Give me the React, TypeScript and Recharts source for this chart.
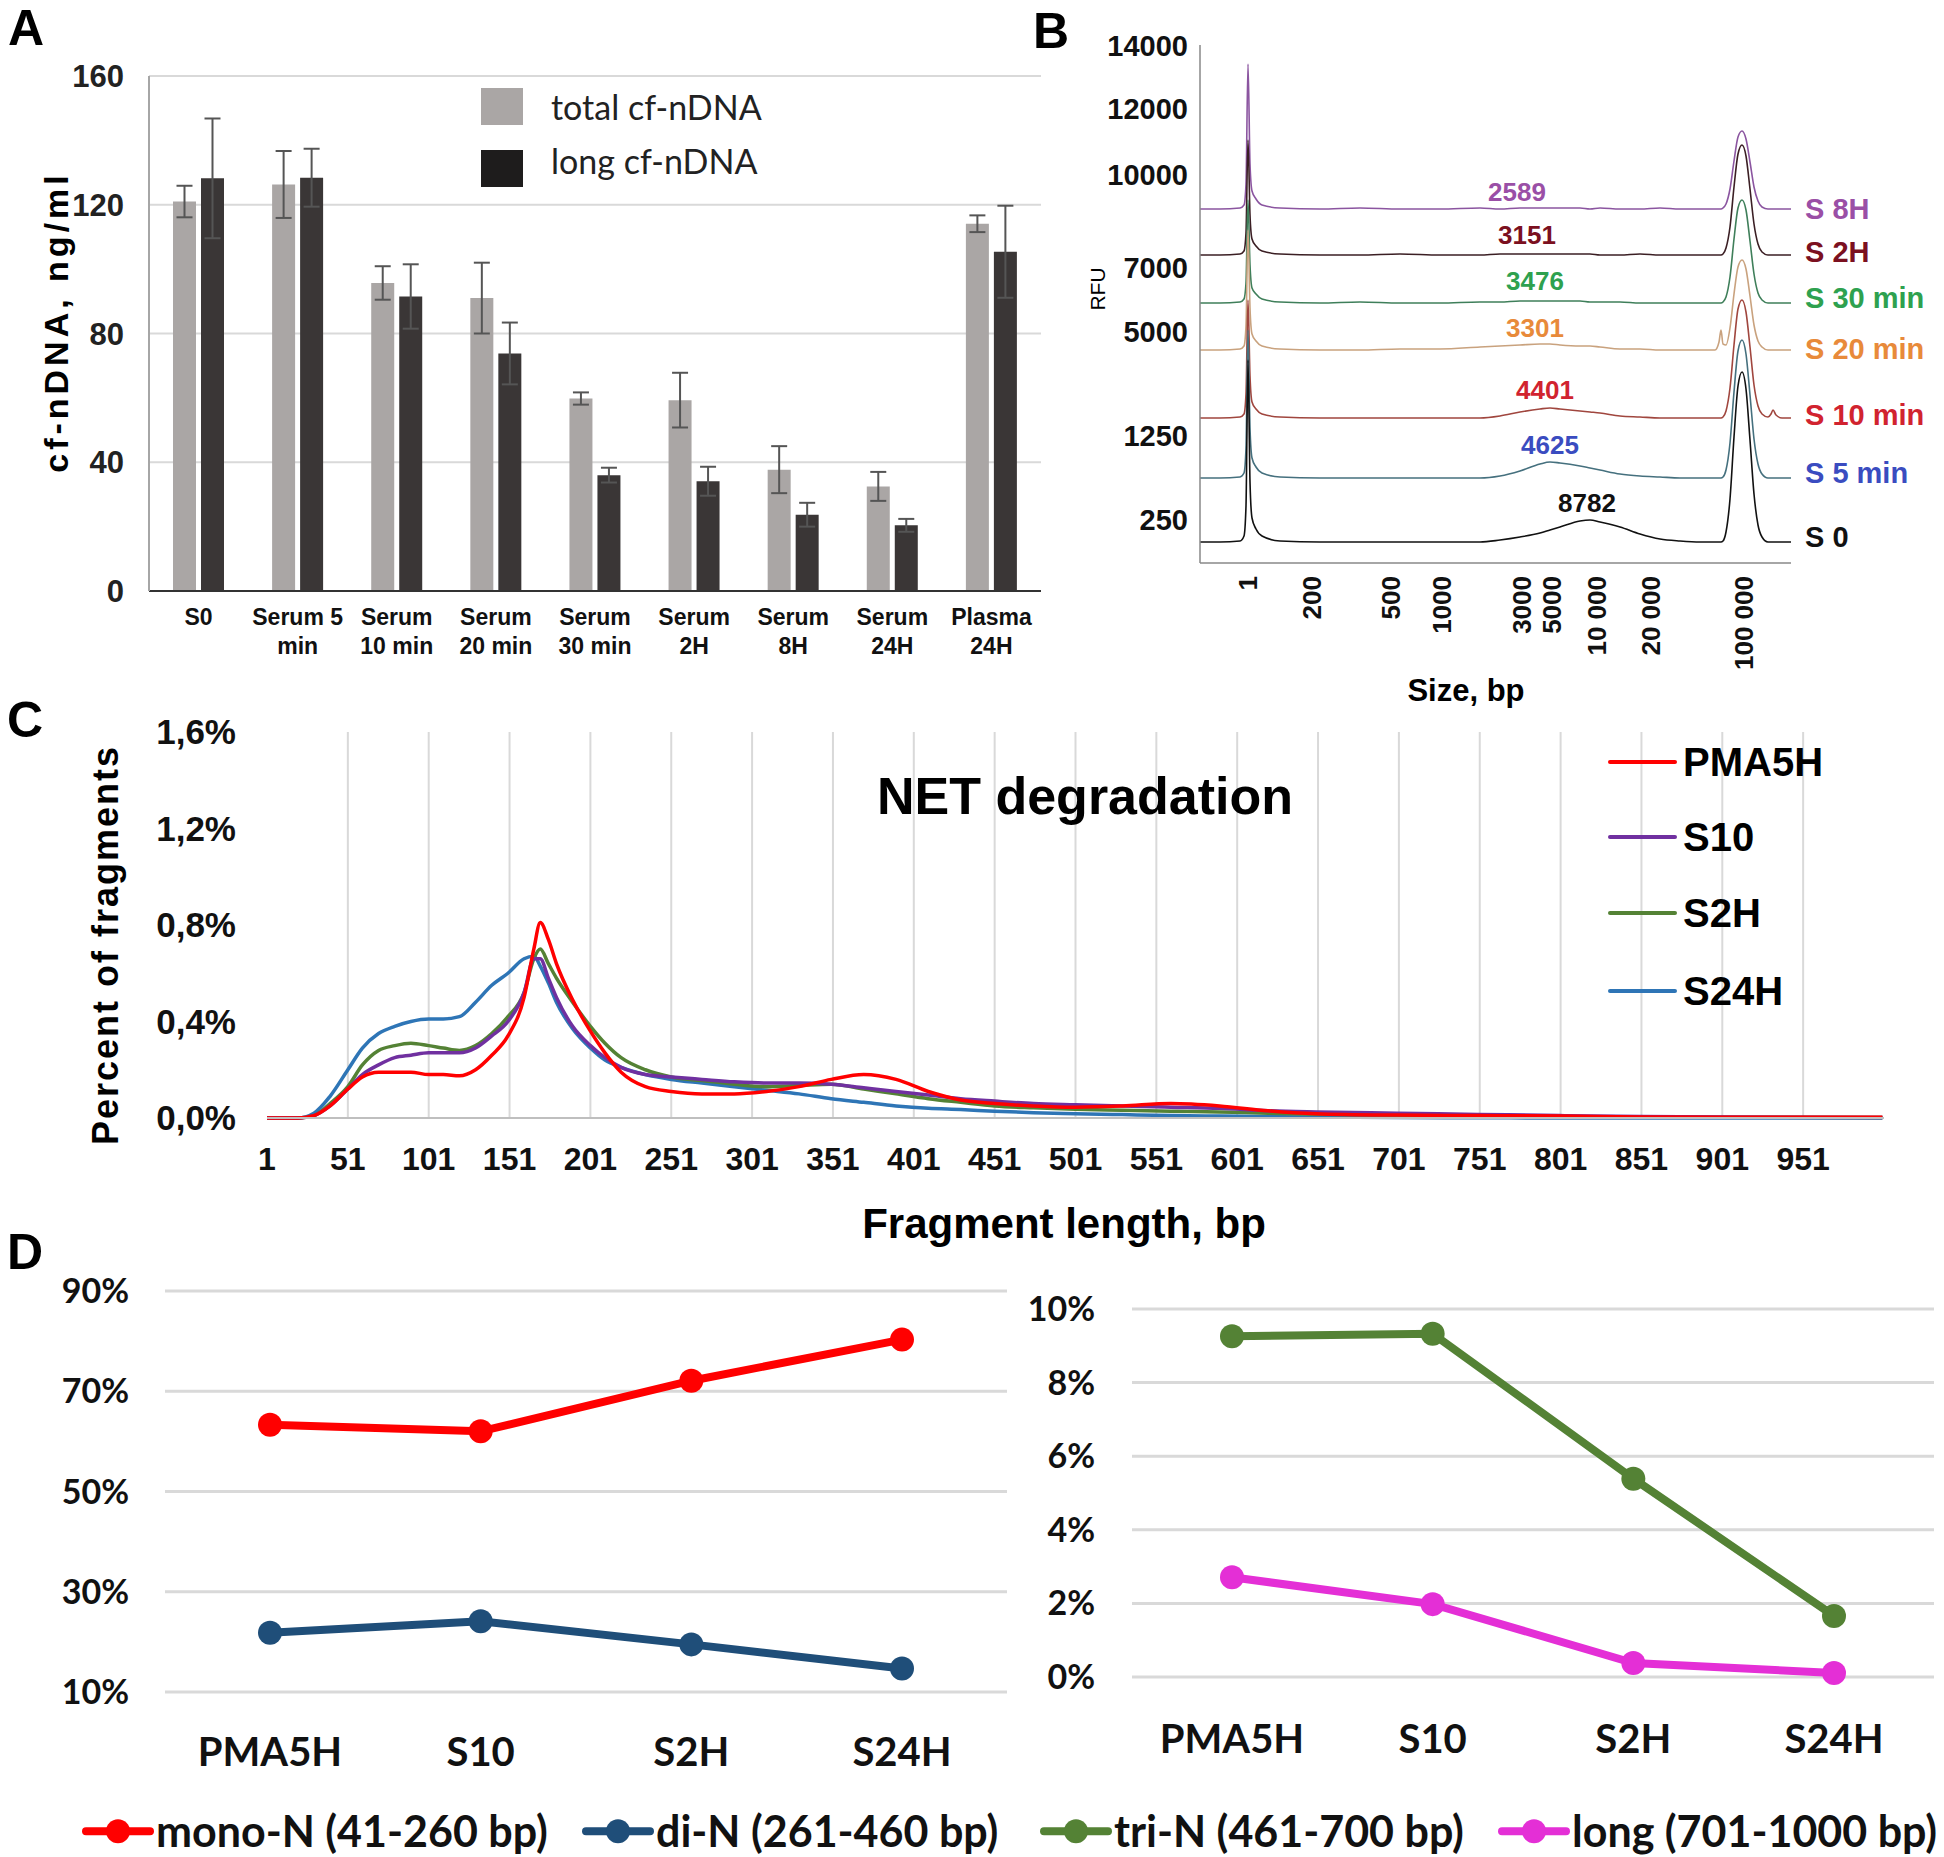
import React from 'react';
import {
  BarChart,
  Bar,
  ErrorBar,
  LineChart,
  Line,
  XAxis,
  YAxis,
  CartesianGrid,
  ReferenceLine,
  ReferenceDot,
} from 'recharts';

const ARIAL = '"Liberation Sans", Arial, Helvetica, sans-serif';
const CALIBRI = 'Lato, "Open Sans", sans-serif';

// ---------- A: cf-nDNA concentration (ng/ml) ----------
const sampleNames = ['S0', 'Serum 5 min', 'Serum 10 min', 'Serum 20 min', 'Serum 30 min', 'Serum 2H', 'Serum 8H', 'Serum 24H', 'Plasma 24H'];
const sampleLabelLines = [['S0'], ['Serum 5', 'min'], ['Serum', '10 min'], ['Serum', '20 min'], ['Serum', '30 min'], ['Serum', '2H'], ['Serum', '8H'], ['Serum', '24H'], ['Plasma', '24H']];
const totalCf = [121, 126.3, 95.7, 91, 59.8, 59.3, 37.7, 32.5, 114.1];
const totalCfErr = [4.9, 10.4, 5.2, 11, 1.9, 8.5, 7.3, 4.5, 2.6];
const longCf = [128.2, 128.4, 91.5, 73.8, 36, 34.1, 23.7, 20.4, 105.4];
const longCfErr = [18.6, 9, 10, 9.6, 2.3, 4.5, 3.7, 2, 14.3];
const concTicks = [0, 40, 80, 120, 160];

// ---------- B: electropherograms ----------
// migration position (arbitrary units along the run) and size marks on it
const sizeTickPos = [48, 112, 191, 242, 322, 352, 397, 451, 544];
const sizeTickLabels = ['1', '200', '500', '1000', '3000', '5000', '10 000', '20 000', '100 000'];
const rfuTickPos = [43, 127, 231.5, 295, 388.5, 454, 517];
const rfuTickLabels = ['250', '1250', '5000', '7000', '10000', '12000', '14000'];
const migrationPos = [0, 20, 40, 44, 46, 48, 50, 52, 56, 62, 80, 120, 160, 200, 240, 280, 300, 320, 340, 350, 360, 380, 390, 400, 420, 440, 460, 480, 500, 515, 519, 521, 523, 526, 530, 534, 538, 542, 546, 550, 554, 558, 562, 568, 571, 573, 576, 582, 591];
const traceNames = ['S 8H', 'S 2H', 'S 30 min', 'S 20 min', 'S 10 min', 'S 5 min', 'S 0'];
const traceSignals = [
  [0, 0, 1, 4, 25, 145, 45, 18, 10, 4, 1, 0, 1, 0, 0, 1, 0, 1, 1, 1, 1, 1, 0, 1, 0, 0, 1, 0, 0, 0, 0, 0, 1, 5, 20, 48, 72, 78, 70, 47, 22, 8, 2, 0, 0, 0, 0, 0, 0],
  [0, 0, 1, 4, 22, 115, 40, 16, 9, 4, 1, 0, 0, 1, 0, 0, 1, 1, 1, 1, 1, 1, 1, 0, 0, 1, 0, 0, 0, 0, 0, 0, 1, 7, 28, 68, 101, 110, 99, 66, 31, 11, 3, 0, 0, 0, 0, 0, 0],
  [0, 0, 1, 4, 20, 103, 38, 15, 9, 4, 1, 0, 1, 0, 0, 1, 1, 2, 2, 2, 2, 2, 1, 1, 1, 0, 0, 0, 0, 0, 0, 0, 1, 6, 26, 64, 95, 103, 93, 62, 29, 10, 3, 0, 0, 0, 0, 0, 0],
  [0, 0, 1, 4, 24, 120, 42, 16, 9, 4, 1, 0, 0, 1, 1, 3, 4, 5, 6, 6, 5, 4, 4, 3, 1, 1, 0, 0, 0, 0, 8, 20, 6, 5, 22, 56, 83, 90, 81, 54, 25, 9, 3, 0, 0, 0, 0, 0, 0],
  [0, 0, 1, 4, 24, 118, 42, 16, 9, 4, 1, 0, 0, 0, 0, 0, 2, 6, 9, 10, 9, 7, 6, 5, 2, 1, 0, 0, 0, 0, 0, 0, 1, 7, 30, 73, 109, 118, 106, 71, 33, 12, 4, 1, 4, 8, 3, 0, 0],
  [0, 0, 1, 5, 30, 148, 50, 20, 11, 5, 1, 0, 0, 0, 0, 0, 2, 7, 14, 16, 15, 12, 10, 8, 4, 2, 1, 0, 0, 0, 0, 0, 1, 8, 35, 86, 127, 138, 124, 83, 39, 14, 4, 0, 0, 0, 0, 0, 0],
  [0, 0, 1, 6, 36, 182, 60, 24, 13, 6, 1, 0, 0, 0, 0, 0, 2, 5, 9, 12, 15, 21, 22, 20, 15, 8, 3, 1, 0, 0, 0, 0, 1, 10, 43, 105, 156, 170, 153, 102, 48, 17, 5, 0, 0, 0, 0, 0, 0],
];
const peakSizes = ['2589', '3151', '3476', '3301', '4401', '4625', '8782'];
const peakSizePos = [317, 327, 335, 335, 345, 350, 387];

// stacking of the traces in the plot (display offsets, not data)
const traceOffset = [354, 308, 260, 213, 145, 85, 21];
const peakLabelLevel = [371, 328, 282, 235, 173, 118, 60];
const nameLabelLevel = [354, 311, 265, 214, 148, 90, 26];
const traceLineColors = ['#8b55a0', '#3b1f24', '#3f7f5a', '#c9a27e', '#a0463e', '#45707e', '#111111'];
const traceTextColors = ['#9a4fa6', '#7b1020', '#2ea14f', '#e88a3a', '#d1232f', '#3a4cc0', '#111111'];

// ---------- C: fragment length distribution ----------
const fragLen = [1, 20, 30, 40, 51, 60, 70, 80, 90, 101, 110, 120, 130, 140, 150, 160, 166, 170, 175, 180, 190, 201, 210, 220, 235, 251, 270, 290, 310, 330, 350, 370, 390, 410, 430, 451, 475, 501, 530, 560, 590, 620, 650, 700, 750, 800, 850, 900, 1000];
const pma5h = [0, 0, 0.01, 0.05, 0.12, 0.17, 0.19, 0.19, 0.19, 0.18, 0.18, 0.175, 0.2, 0.26, 0.34, 0.5, 0.7, 0.81, 0.74, 0.64, 0.49, 0.36, 0.27, 0.19, 0.13, 0.11, 0.1, 0.1, 0.11, 0.13, 0.16, 0.18, 0.16, 0.11, 0.075, 0.06, 0.05, 0.045, 0.05, 0.06, 0.05, 0.03, 0.018, 0.012, 0.01, 0.008, 0.004, 0.003, 0.003];
const s10 = [0, 0, 0.01, 0.05, 0.12, 0.18, 0.22, 0.25, 0.26, 0.27, 0.27, 0.27, 0.29, 0.34, 0.4, 0.52, 0.66, 0.66, 0.58, 0.5, 0.38, 0.3, 0.25, 0.21, 0.18, 0.17, 0.16, 0.15, 0.145, 0.145, 0.14, 0.125, 0.11, 0.095, 0.08, 0.07, 0.06, 0.055, 0.05, 0.045, 0.04, 0.03, 0.025, 0.02, 0.015, 0.01, 0.006, 0.004, 0.002];
const s2h = [0, 0, 0.01, 0.06, 0.13, 0.22, 0.28, 0.3, 0.31, 0.3, 0.29, 0.28, 0.3, 0.35, 0.42, 0.52, 0.66, 0.7, 0.64, 0.58, 0.48, 0.38, 0.31, 0.25, 0.2, 0.17, 0.155, 0.14, 0.13, 0.135, 0.14, 0.12, 0.1, 0.08, 0.065, 0.05, 0.042, 0.036, 0.032, 0.028, 0.025, 0.02, 0.016, 0.012, 0.008, 0.006, 0.004, 0.003, 0.002];
const s24h = [0, 0, 0.02, 0.09, 0.2, 0.29, 0.35, 0.38, 0.4, 0.41, 0.41, 0.42, 0.48, 0.55, 0.6, 0.66, 0.67, 0.63, 0.56, 0.48, 0.37, 0.29, 0.24, 0.21, 0.18, 0.16, 0.145, 0.13, 0.115, 0.1, 0.08, 0.065, 0.05, 0.04, 0.035, 0.028, 0.022, 0.018, 0.014, 0.01, 0.008, 0.006, 0.004, 0.002, 0.001, 0, 0, 0, 0];
const fragTicks = [1, 51, 101, 151, 201, 251, 301, 351, 401, 451, 501, 551, 601, 651, 701, 751, 801, 851, 901, 951];
const fragGrid = [51, 101, 151, 201, 251, 301, 351, 401, 451, 501, 551, 601, 651, 701, 751, 801, 851, 901, 951];
const pctTicks = [0, 0.4, 0.8, 1.2, 1.6];

// ---------- D: fraction of fragment classes ----------
const groups = ['PMA5H', 'S10', 'S2H', 'S24H'];
const monoN = [63.3, 62, 72.1, 80.3];
const diN = [21.8, 24.1, 19.5, 14.7];
const triN = [9.26, 9.33, 5.39, 1.66];
const longN = [2.71, 1.98, 0.38, 0.11];

const concData = sampleNames.map((name, i) => ({
  name,
  total: totalCf[i],
  totalErr: totalCfErr[i],
  long: longCf[i],
  longErr: longCfErr[i],
}));

const traceData = migrationPos.map((pos, i) => {
  const row: Record<string, number> = { pos };
  traceSignals.forEach((sig, k) => {
    row[`t${k}`] = traceOffset[k] + sig[i];
  });
  return row;
});

const fragData = fragLen.map((len, i) => ({ len, pma5h: pma5h[i], s10: s10[i], s2h: s2h[i], s24h: s24h[i] }));
const classData = groups.map((g, i) => ({ g, mono: monoN[i], di: diN[i], tri: triN[i], long: longN[i] }));

type TxtProps = {
  x: number;
  y: number;
  size: number;
  children: React.ReactNode;
  weight?: number;
  color?: string;
  font?: string;
  rotate?: number;
  align?: 'center' | 'left';
  spacing?: number;
};

// free text placed on the page (titles, panel letters)
const Txt = ({ x, y, size, children, weight = 700, color = '#000', font = ARIAL, rotate = 0, align = 'center', spacing = 0 }: TxtProps) => (
  <div
    style={{
      position: 'absolute',
      left: x,
      top: y,
      transform: `translate(${align === 'center' ? '-50%' : '0'}, -50%) rotate(${rotate}deg)`,
      fontFamily: font,
      fontSize: size,
      fontWeight: weight,
      color,
      lineHeight: 1.1,
      whiteSpace: 'nowrap',
      letterSpacing: spacing,
    }}
  >
    {children}
  </div>
);

const SampleTick = (props: any) => {
  const { x, y, payload } = props;
  const idx = sampleNames.indexOf(payload.value);
  const lines = sampleLabelLines[idx] ?? [String(payload.value)];
  return (
    <text x={x} y={y} textAnchor="middle" fontFamily={ARIAL} fontWeight={700} fontSize={23} fill="#111">
      {lines.map((l, i) => (
        <tspan key={i} x={x} dy={i === 0 ? 34 : 29}>
          {l}
        </tspan>
      ))}
    </text>
  );
};

const SizeTick = (props: any) => {
  const { x, y, payload } = props;
  const i = sizeTickPos.indexOf(payload.value);
  return (
    <g transform={`translate(${x},${y})`}>
      <text transform="rotate(-90)" textAnchor="end" dy="0.36em" fontFamily={ARIAL} fontWeight={700} fontSize={26} fill="#111">
        {sizeTickLabels[i]}
      </text>
    </g>
  );
};

const pctFmt = (v: number) => `${v.toFixed(1).replace('.', ',')}%`;

const LegendSwatch = ({ color }: { color: string }) => (
  <svg width={72} height={28} style={{ display: 'block' }}>
    <line x1={4} x2={68} y1={14} y2={14} stroke={color} strokeWidth={8} strokeLinecap="round" />
    <circle cx={36} cy={14} r={12} fill={color} />
  </svg>
);

const classLegend = [
  { label: 'mono-N (41-260 bp)', color: '#ff0000', left: 82 },
  { label: 'di-N (261-460 bp)', color: '#1f4e79', left: 582 },
  { label: 'tri-N (461-700 bp)', color: '#548235', left: 1040 },
  { label: 'long (701-1000 bp)', color: '#e42fd6', left: 1498 },
];

const fragSeries = [
  { key: 's24h', name: 'S24H', color: '#2e75b6' },
  { key: 's2h', name: 'S2H', color: '#548235' },
  { key: 's10', name: 'S10', color: '#7030a0' },
  { key: 'pma5h', name: 'PMA5H', color: '#ff0000' },
];
const fragLegendRows = [
  { name: 'PMA5H', color: '#ff0000', y: 762 },
  { name: 'S10', color: '#7030a0', y: 837 },
  { name: 'S2H', color: '#548235', y: 913 },
  { name: 'S24H', color: '#2e75b6', y: 991 },
];

export default function App() {
  return (
    <div style={{ position: 'absolute', left: 0, top: 0, width: 1944, height: 1857, background: '#fff', overflow: 'hidden' }}>
      {/* ---------- A ---------- */}
      <div style={{ position: 'absolute', left: 0, top: 0 }}>
        <BarChart width={1050} height={700} data={concData} margin={{ top: 76, right: 9, bottom: 0, left: 0 }} barGap={5}>
          <CartesianGrid horizontal vertical={false} stroke="#d9d9d9" strokeWidth={2} />
          <XAxis
            dataKey="name"
            interval={0}
            height={109}
            tickLine={false}
            tickSize={0}
            tickMargin={0}
            axisLine={{ stroke: '#333', strokeWidth: 2 }}
            tick={<SampleTick />}
          />
          <YAxis
            width={149}
            domain={[0, 160]}
            ticks={concTicks}
            tickLine={false}
            tickSize={0}
            tickMargin={25}
            axisLine={{ stroke: '#a6a6a6', strokeWidth: 2 }}
            tick={{ fontFamily: ARIAL, fontWeight: 700, fontSize: 31, fill: '#222' }}
          />
          <Bar dataKey="total" fill="#aaa6a5" barSize={23} isAnimationActive={false}>
            <ErrorBar dataKey="totalErr" width={8} stroke="#555" strokeWidth={2} />
          </Bar>
          <Bar dataKey="long" fill="#3a3636" barSize={23} isAnimationActive={false}>
            <ErrorBar dataKey="longErr" width={8} stroke="#555" strokeWidth={2} />
          </Bar>
        </BarChart>
      </div>
      <div style={{ position: 'absolute', left: 481, top: 88, width: 42, height: 37, background: '#aaa6a5' }} />
      <div style={{ position: 'absolute', left: 481, top: 150, width: 42, height: 37, background: '#1e1c1c' }} />
      <Txt x={551} y={107} size={34} weight={400} color="#222" font={CALIBRI} align="left">total cf-nDNA</Txt>
      <Txt x={551} y={161} size={34} weight={400} color="#222" font={CALIBRI} align="left">long cf-nDNA</Txt>
      <Txt x={57} y={322} size={34} rotate={-90} spacing={4}>cf-nDNA, ng/ml</Txt>

      {/* ---------- B ---------- */}
      <div style={{ position: 'absolute', left: 1050, top: 0 }}>
        <LineChart width={894} height={720} data={traceData} margin={{ top: 45, right: 153, bottom: 7, left: 0 }}>
          <XAxis
            dataKey="pos"
            type="number"
            domain={[0, 591]}
            ticks={sizeTickPos}
            interval={0}
            height={150}
            tickLine={false}
            tickSize={0}
            tickMargin={13}
            axisLine={{ stroke: '#888', strokeWidth: 1.5 }}
            tick={<SizeTick />}
          />
          <XAxis xAxisId="top" orientation="top" dataKey="pos" type="number" domain={[0, 591]} height={0} tick={false} tickLine={false} axisLine={{ stroke: '#888', strokeWidth: 1.5 }} />
          <YAxis
            type="number"
            domain={[0, 518]}
            ticks={rfuTickPos}
            interval={0}
            width={150}
            tickLine={false}
            tickSize={0}
            tickMargin={12}
            axisLine={{ stroke: '#888', strokeWidth: 1.5 }}
            tickFormatter={(v: number) => rfuTickLabels[rfuTickPos.indexOf(v)]}
            tick={{ fontFamily: ARIAL, fontWeight: 700, fontSize: 29, fill: '#111' }}
          />
          <YAxis yAxisId="right" orientation="right" type="number" domain={[0, 518]} width={0} tick={false} tickLine={false} axisLine={{ stroke: '#888', strokeWidth: 1.5 }} />
          {traceNames.map((name, k) => (
            <Line
              key={name}
              dataKey={`t${k}`}
              type="monotone"
              stroke={traceLineColors[k]}
              strokeWidth={1.6}
              dot={false}
              activeDot={false}
              isAnimationActive={false}
            />
          ))}
          {traceNames.map((name, k) => (
            <ReferenceDot
              key={`p${name}`}
              x={peakSizePos[k]}
              y={peakLabelLevel[k]}
              r={0}
              fill="none"
              stroke="none"
              label={{ value: peakSizes[k], position: 'center', fill: traceTextColors[k], fontSize: 26, fontWeight: 700, fontFamily: ARIAL }}
            />
          ))}
          {traceNames.map((name, k) => (
            <ReferenceDot
              key={`n${name}`}
              x={591}
              y={nameLabelLevel[k]}
              r={0}
              fill="none"
              stroke="none"
              label={{ value: name, position: 'right', offset: 14, fill: traceTextColors[k], fontSize: 29, fontWeight: 700, fontFamily: ARIAL }}
            />
          ))}
        </LineChart>
      </div>
      <Txt x={1098} y={289} size={21} weight={400} rotate={-90}>RFU</Txt>
      <Txt x={1466} y={691} size={31}>Size, bp</Txt>

      {/* ---------- C ---------- */}
      <div style={{ position: 'absolute', left: 0, top: 700 }}>
        <LineChart width={1944} height={560} data={fragData} margin={{ top: 32, right: 60, bottom: 0, left: 0 }}>
          <XAxis
            dataKey="len"
            type="number"
            domain={[1, 1001]}
            ticks={fragTicks}
            interval={0}
            height={142}
            tickLine={false}
            tickSize={0}
            tickMargin={29}
            axisLine={{ stroke: '#bfbfbf', strokeWidth: 2 }}
            tick={{ fontFamily: ARIAL, fontWeight: 700, fontSize: 32, fill: '#111' }}
          />
          <YAxis
            type="number"
            domain={[0, 1.6]}
            ticks={pctTicks}
            interval={0}
            width={267}
            tickLine={false}
            tickSize={0}
            tickMargin={31}
            axisLine={false}
            tickFormatter={pctFmt}
            tick={{ fontFamily: ARIAL, fontWeight: 700, fontSize: 35, fill: '#111' }}
          />
          {fragGrid.map((v) => (
            <ReferenceLine key={v} x={v} stroke="#d9d9d9" strokeWidth={2} />
          ))}
          {fragSeries.map((s) => (
            <Line
              key={s.key}
              dataKey={s.key}
              name={s.name}
              type="monotone"
              stroke={s.color}
              strokeWidth={3.5}
              dot={false}
              activeDot={false}
              isAnimationActive={false}
            />
          ))}
        </LineChart>
      </div>
      {fragLegendRows.map((r) => (
        <React.Fragment key={r.name}>
          <div style={{ position: 'absolute', left: 1608, top: r.y - 2, width: 69, height: 4, borderRadius: 2, background: r.color }} />
          <Txt x={1683} y={r.y} size={40} align="left">{r.name}</Txt>
        </React.Fragment>
      ))}
      <Txt x={1085} y={797} size={52}>NET degradation</Txt>
      <Txt x={106} y={945} size={36} rotate={-90} spacing={2}>Percent of fragments</Txt>
      <Txt x={1064} y={1224} size={42}>Fragment length, bp</Txt>

      {/* ---------- D ---------- */}
      <div style={{ position: 'absolute', left: 0, top: 1260 }}>
        <LineChart width={1020} height={540} data={classData} margin={{ top: 31, right: 13, bottom: 0, left: 0 }}>
          <CartesianGrid horizontal vertical={false} stroke="#d9d9d9" strokeWidth={3} />
          <XAxis
            dataKey="g"
            padding={{ left: 105, right: 105 }}
            height={108}
            tickLine={false}
            tickSize={0}
            tickMargin={46}
            axisLine={false}
            tick={{ fontFamily: CALIBRI, fontWeight: 700, fontSize: 40, fill: '#111' }}
          />
          <YAxis
            type="number"
            domain={[10, 90]}
            ticks={[10, 30, 50, 70, 90]}
            interval={0}
            width={165}
            tickLine={false}
            tickSize={0}
            tickMargin={36}
            axisLine={false}
            tickFormatter={(v: number) => `${v}%`}
            tick={{ fontFamily: CALIBRI, fontWeight: 700, fontSize: 34, fill: '#111' }}
          />
          <Line dataKey="mono" type="linear" stroke="#ff0000" strokeWidth={8} dot={{ r: 12, fill: '#ff0000', stroke: 'none' }} activeDot={false} isAnimationActive={false} />
          <Line dataKey="di" type="linear" stroke="#1f4e79" strokeWidth={8} dot={{ r: 12, fill: '#1f4e79', stroke: 'none' }} activeDot={false} isAnimationActive={false} />
        </LineChart>
      </div>
      <div style={{ position: 'absolute', left: 1020, top: 1260 }}>
        <LineChart width={924} height={540} data={classData} margin={{ top: 49, right: 10, bottom: 0, left: 0 }}>
          <CartesianGrid horizontal vertical={false} stroke="#d9d9d9" strokeWidth={3} />
          <XAxis
            dataKey="g"
            padding={{ left: 100, right: 100 }}
            height={123}
            tickLine={false}
            tickSize={0}
            tickMargin={48}
            axisLine={false}
            tick={{ fontFamily: CALIBRI, fontWeight: 700, fontSize: 40, fill: '#111' }}
          />
          <YAxis
            type="number"
            domain={[0, 10]}
            ticks={[0, 2, 4, 6, 8, 10]}
            interval={0}
            width={112}
            tickLine={false}
            tickSize={0}
            tickMargin={37}
            axisLine={false}
            tickFormatter={(v: number) => `${v}%`}
            tick={{ fontFamily: CALIBRI, fontWeight: 700, fontSize: 34, fill: '#111' }}
          />
          <Line dataKey="tri" type="linear" stroke="#548235" strokeWidth={8} dot={{ r: 12, fill: '#548235', stroke: 'none' }} activeDot={false} isAnimationActive={false} />
          <Line dataKey="long" type="linear" stroke="#e42fd6" strokeWidth={8} dot={{ r: 12, fill: '#e42fd6', stroke: 'none' }} activeDot={false} isAnimationActive={false} />
        </LineChart>
      </div>
      {classLegend.map((l) => (
        <div key={l.label} style={{ position: 'absolute', left: l.left, top: 1831, transform: 'translateY(-50%)', display: 'flex', alignItems: 'center', gap: 2 }}>
          <LegendSwatch color={l.color} />
          <span style={{ fontFamily: CALIBRI, fontWeight: 700, fontSize: 43, lineHeight: 1.1, color: '#111', whiteSpace: 'nowrap' }}>{l.label}</span>
        </div>
      ))}

      {/* panel letters */}
      <Txt x={26} y={28} size={50}>A</Txt>
      <Txt x={1051} y={31} size={50}>B</Txt>
      <Txt x={25} y={720} size={50}>C</Txt>
      <Txt x={25} y={1252} size={50}>D</Txt>
    </div>
  );
}
